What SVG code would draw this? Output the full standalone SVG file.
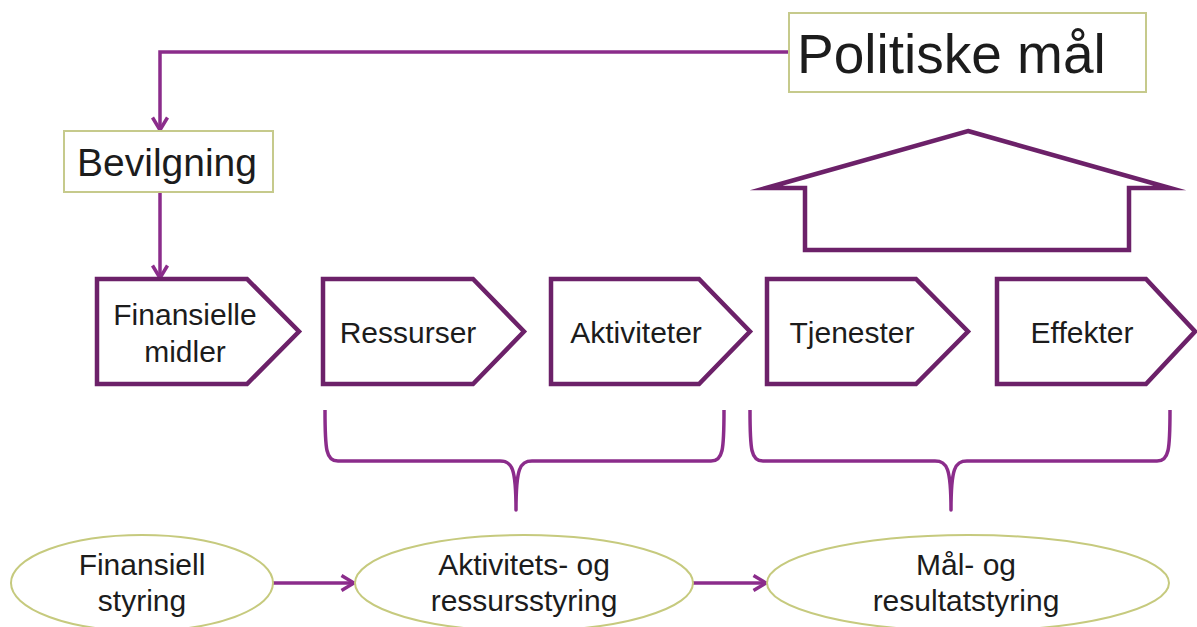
<svg xmlns="http://www.w3.org/2000/svg" width="1197" height="627" viewBox="0 0 1197 627">
<style>
text{font-family:"Liberation Sans",Arial,Helvetica,sans-serif;fill:#1c1c1c}
.t30{font-size:30px;text-anchor:middle}
.box{fill:#fff;stroke:#c6ca8c;stroke-width:2}
.pent{fill:#fff;stroke:#6c2169;stroke-width:4.5;stroke-linejoin:miter}
.ell{fill:#fff;stroke:#c6ca7e;stroke-width:2}
.conn{fill:none;stroke:#8b2c8b;stroke-width:3.5}
.brace{fill:none;stroke:#8b2c8b;stroke-width:3.5;stroke-linejoin:round}
.house{fill:#fff;stroke:#6c2169;stroke-width:4.5;stroke-miterlimit:12}
</style>
<defs>
<marker id="arr" markerUnits="userSpaceOnUse" viewBox="0 0 16 18" refX="14" refY="9" markerWidth="16" markerHeight="18" orient="auto">
<path d="M1.5,1.5 L14,9 L1.5,16.5" fill="none" stroke="#8b2c8b" stroke-width="3.5"/>
</marker>
</defs>
<rect width="1197" height="627" fill="#fff"/>

<g id="connectors">
<path class="conn" d="M789,52 L160,52 L160,130" marker-end="url(#arr)"/>
<path class="conn" d="M160,192 L160,278" marker-end="url(#arr)"/>
<path class="conn" d="M273,583 L354,583" marker-end="url(#arr)"/>
<path class="conn" d="M693,583 L766,583" marker-end="url(#arr)"/>
</g>

<g id="politiske-maal">
<rect class="box" x="789" y="13" width="357" height="79"/>
<text x="797" y="73" font-size="55">Politiske mål</text>
</g>

<g id="bevilgning">
<rect class="box" x="64" y="131" width="209" height="61"/>
<text x="167" y="176" font-size="39" text-anchor="middle">Bevilgning</text>
</g>

<g id="house-arrow">
<path class="house" d="M968,131 L1170,188 L1129,188 L1129,250 L805,250 L805,188 L766,188 Z"/>
</g>

<g id="finansielle-midler">
<path class="pent" d="M97,279 L247,279 L299,331.5 L247,384 L97,384 Z"/>
<text class="t30" x="185" y="325">Finansielle</text>
<text class="t30" x="185" y="362">midler</text>
</g>
<g id="ressurser">
<path class="pent" d="M323,279 L473,279 L524,331.5 L473,384 L323,384 Z"/>
<text class="t30" x="408" y="343">Ressurser</text>
</g>
<g id="aktiviteter">
<path class="pent" d="M551,279 L699,279 L750,331.5 L699,384 L551,384 Z"/>
<text class="t30" x="636" y="343">Aktiviteter</text>
</g>
<g id="tjenester">
<path class="pent" d="M767,279 L916,279 L968,331.5 L916,384 L767,384 Z"/>
<text class="t30" x="852" y="343">Tjenester</text>
</g>
<g id="effekter">
<path class="pent" d="M997,279 L1146,279 L1195,331.5 L1146,384 L997,384 Z"/>
<text class="t30" x="1082" y="343">Effekter</text>
</g>

<g id="brace-1">
<path class="brace" d="M325,410 C325,450 326,461 338,461 L500,461 C512,461 516,468 516,510 C516,468 520,461 532,461 L711,461 C723,461 724,450 724,410"/>
</g>
<g id="brace-2">
<path class="brace" d="M750,410 C750,450 751,461 763,461 L935,461 C947,461 951,468 951,510 C951,468 955,461 967,461 L1157,461 C1169,461 1170,450 1170,410"/>
</g>

<g id="finansiell-styring">
<ellipse class="ell" cx="142" cy="583" rx="131" ry="48"/>
<text class="t30" x="142" y="575">Finansiell</text>
<text class="t30" x="142" y="611">styring</text>
</g>
<g id="aktivitets-og-ressursstyring">
<ellipse class="ell" cx="524" cy="583" rx="169" ry="48"/>
<text class="t30" x="524" y="575">Aktivitets- og</text>
<text class="t30" x="524" y="611">ressursstyring</text>
</g>
<g id="maal-og-resultatstyring">
<ellipse class="ell" cx="968" cy="583" rx="201" ry="48"/>
<text class="t30" x="966" y="575">Mål- og</text>
<text class="t30" x="966" y="611">resultatstyring</text>
</g>
</svg>
